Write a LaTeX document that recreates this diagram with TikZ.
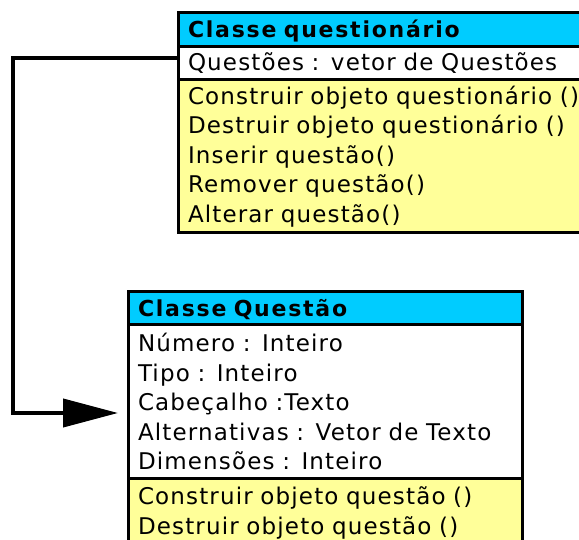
\documentclass[tikz,border=0pt]{standalone}
\usepackage{fontspec}
\setmainfont{DejaVu Sans}[LetterSpace=5]
\usepackage{xcolor}
\usetikzlibrary{arrows.meta, positioning}

\definecolor{hdrcyan}{RGB}{0,204,255}
\definecolor{methyellow}{RGB}{255,255,153}

\begin{document}
\begin{tikzpicture}[
    x=1pt, y=-1pt,
    every node/.style={font=\fontsize{23}{29.5}\selectfont},
    part/.style={draw, line width=3pt, fill=#1, inner xsep=10pt, inner ysep=0pt, outer sep=0pt, align=left, anchor=north west},
    hdr/.style={part=hdrcyan, font=\fontsize{22}{29.5}\selectfont\bfseries\addfontfeature{LetterSpace=8}, text height=16pt, text depth=0pt, minimum height=34pt},
    arr/.style={-{Triangle[length=55pt, width=28pt]}, line width=4pt},
]
    \useasboundingbox (0,0) rectangle (579,540);

    % Classe questionario (top)
    \node[hdr, text width=420pt] (qnhead) at (178,13) {Classe questionário};
    \node[part=white, text width=420pt, minimum height=33pt, below=0pt of qnhead] (qnattr) {Questões : vetor de Questões};
    \node[part=methyellow, text width=420pt, minimum height=153pt, below=0pt of qnattr] (qnmeth)
        {Construir objeto questionário ()\\Destruir objeto questionário ()\\Inserir questão()\\Remover questão()\\Alterar questão()};

    % Classe Questao (bottom)
    \node[hdr, text width=374pt, minimum height=33pt] (qthead) at (128,292) {Classe Questão};
    \node[part=white, text width=374pt, minimum height=153pt, below=0pt of qthead] (qtattr)
        {Número : Inteiro\\Tipo : Inteiro\\Cabeçalho :Texto\\Alternativas : Vetor de Texto\\Dimensões : Inteiro};
    \node[part=methyellow, text width=374pt, inner ysep=9pt, text depth=40pt, below=0pt of qtattr] (qtmeth)
        {Construir objeto questão ()\\Destruir objeto questão ()};

    % Connector
    \coordinate (bend) at (13,58);
    \coordinate (tip) at (118,413);
    \draw[arr] (bend -| qnattr.west) -- (bend) |- (tip);
\end{tikzpicture}
\end{document}
